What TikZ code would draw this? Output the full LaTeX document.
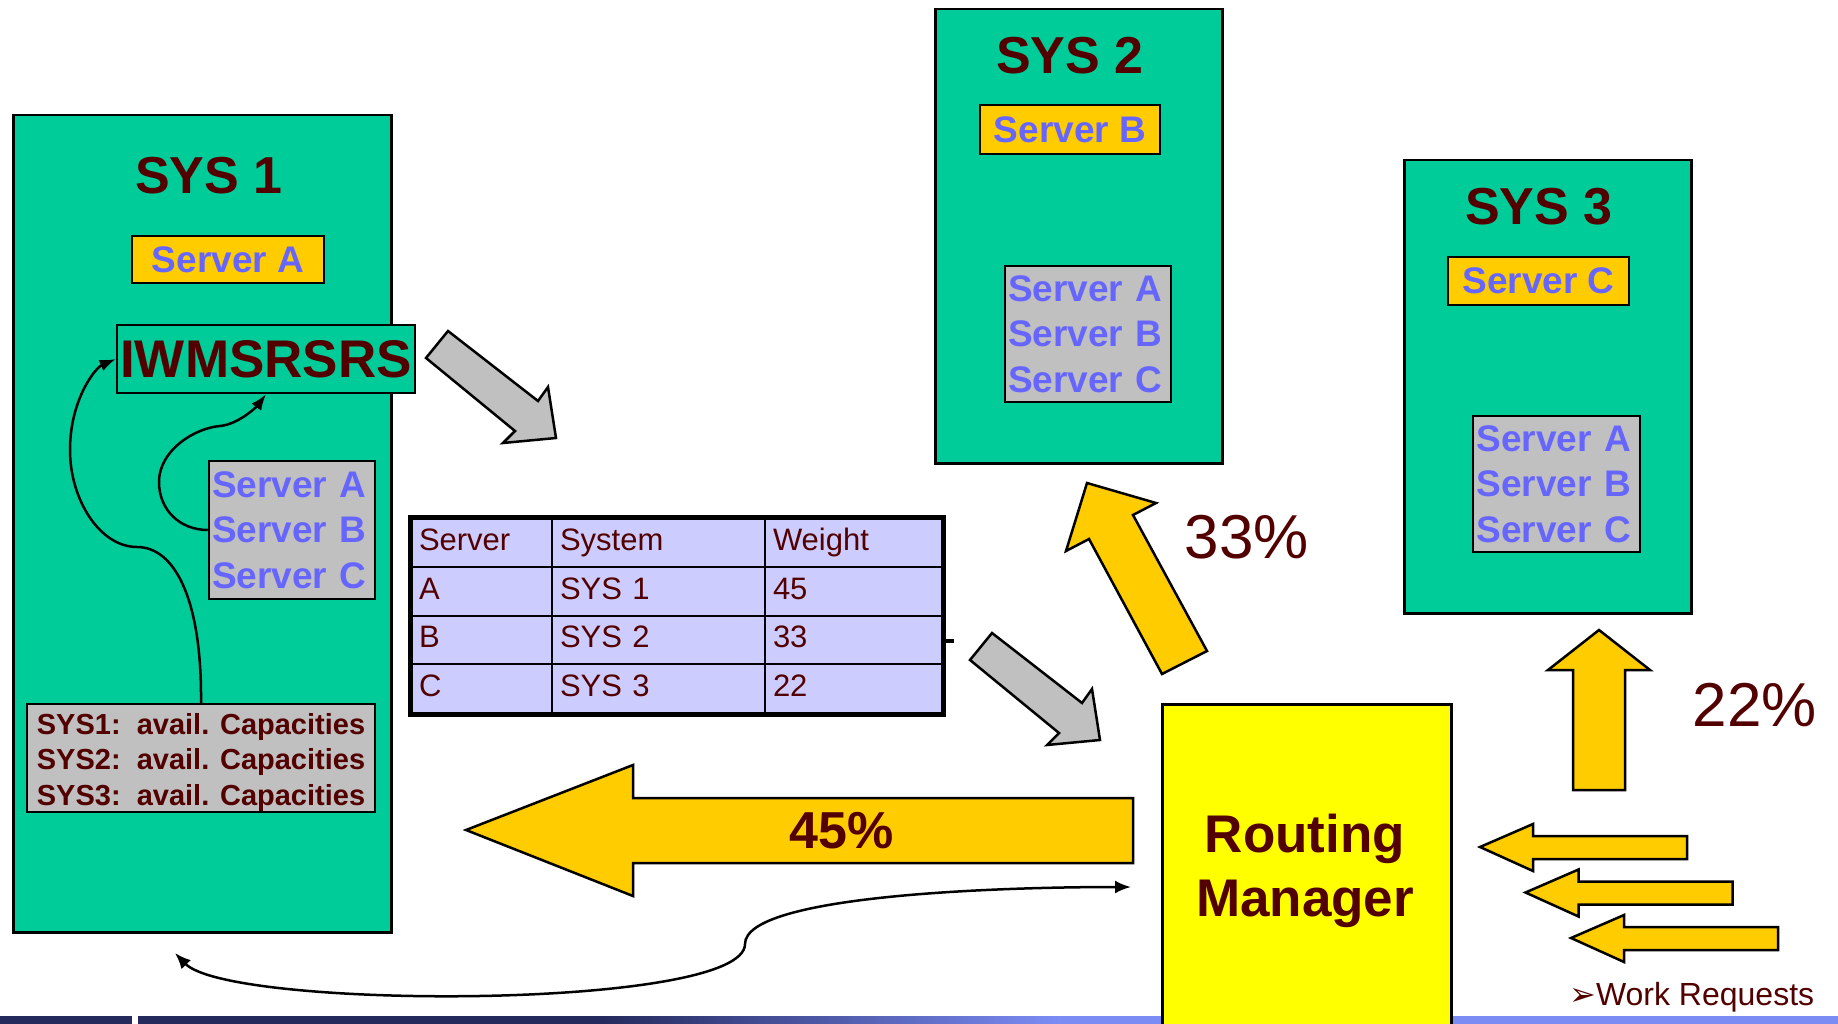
\documentclass[tikz,border=0pt]{standalone}
\usepackage{fontspec}
\setmainfont{Liberation Sans}
\newfontfamily\symfont{DejaVu Sans}
\usetikzlibrary{arrows.meta,matrix}
\definecolor{sysgreen}{HTML}{00CC99}
\definecolor{srvorange}{HTML}{FFCC00}
\definecolor{srvgray}{HTML}{C0C0C0}
\definecolor{srvblue}{HTML}{6666FF}
\definecolor{darkred}{HTML}{520000}
\definecolor{tablefill}{HTML}{CCCCFF}
\definecolor{rmyellow}{HTML}{FFFF00}
\definecolor{barnavy}{HTML}{242A5C}
\definecolor{barblue}{HTML}{7B8CF5}
\tikzset{
  sysbox/.style={draw, fill=sysgreen, line width=2.5pt, anchor=north west, inner sep=0pt},
  systitle/.style={text=darkred, font=\fontsize{52}{60}\selectfont\bfseries, inner sep=0pt},
  homesrv/.style={draw, fill=srvorange, line width=2.5pt, text=srvblue, inner sep=0pt,
    font=\fontsize{37}{45}\selectfont\bfseries},
  srvlist/.style={draw, fill=srvgray, line width=2.5pt, text=srvblue, inner sep=0pt,
    text width=160pt, align=left, font=\fontsize{37}{45.5}\selectfont\bfseries},
  capbox/.style={draw, fill=srvgray, line width=2.5pt, text=darkred, inner sep=0pt,
    align=left, font=\fontsize{29}{35.5}\selectfont\bfseries},
  iwmsbox/.style={draw, fill=sysgreen, line width=2.5pt, text=darkred, inner sep=0pt,
    font=\fontsize{53}{60}\selectfont\bfseries},
  rmbox/.style={draw, fill=rmyellow, line width=2.5pt, anchor=north west, inner sep=0pt},
  rmtext/.style={text=darkred, align=center, inner sep=0pt, font=\fontsize{53}{64}\selectfont\bfseries},
  pct/.style={text=darkred, inner sep=0pt, font=\fontsize{62}{70}\selectfont},
  blockarrow/.style={draw, fill=srvorange, line width=2.5pt, line join=miter},
  grayarrow/.style={draw, fill=srvgray, line width=2.5pt, line join=miter},
  flow/.style={line width=2.5pt}
}
\begin{document}
\begin{tikzpicture}[x=1pt,y=-1pt,>={Latex[length=16pt,width=12pt]}]
\useasboundingbox (0,0) rectangle (1838,1024);
% bottom bar
\fill[barnavy] (0,1016) rectangle (132,1024);
\fill[barnavy] (138,1016) rectangle (600,1024);
\shade[left color=barnavy,right color=barblue] (600,1016) rectangle (1060,1024);
\fill[barblue] (1060,1016) rectangle (1838,1024);

% SYS 1
\node[sysbox, minimum width=378, minimum height=817] (sys1) at (12,114) {};
\node[systitle] (sys1t) at (209,176) {SYS 1};
\node[homesrv, minimum width=192, minimum height=47] (srvA) at (228,259.5) {Server A};
\node[iwmsbox, minimum width=298, minimum height=68] (iwms) at (266,359) {IWMSRSRS};
\node[srvlist, minimum width=166, minimum height=138] (list1) at (292,530) {Server A\\Server B\\Server C};
\node[capbox, minimum width=348, minimum height=108] (caps) at (201,758)
  {\rule{0pt}{30pt}SYS1:~~avail. Capacities\\SYS2:~~avail. Capacities\\SYS3:~~avail. Capacities};
\draw[flow,->] (caps.north) .. controls (202,600) and (175,547) .. (137,547)
  .. controls (100,547) and (70,500) .. (70,450)
  .. controls (70,400) and (95,368) .. (iwms.west);
\draw[flow,->] (list1.west) .. controls (180,530) and (159,510) .. (159,482)
  .. controls (159,450) and (195,428) .. (220,426)
  .. controls (240,424) and (258,405) .. (iwms.south);

% SYS 2
\node[sysbox, minimum width=287, minimum height=454] (sys2) at (934,8) {};
\node[systitle] (sys2t) at (1070,56) {SYS 2};
\node[homesrv, minimum width=180, minimum height=49] (srvB) at (1070,129.5) {Server B};
\node[srvlist, minimum width=166, minimum height=136] (list2) at (1088,334) {Server A\\Server B\\Server C};

% SYS 3
\node[sysbox, minimum width=287, minimum height=453] (sys3) at (1403,159) {};
\node[systitle] (sys3t) at (1539,207) {SYS 3};
\node[homesrv, minimum width=181, minimum height=48] (srvC) at (1538.5,281) {Server C};
\node[srvlist, minimum width=167, minimum height=136] (list3) at (1556.5,484) {Server A\\Server B\\Server C};

% weight table
\matrix (tbl) [matrix of nodes, anchor=north west, inner sep=0pt, outer sep=0pt,
  column sep=-2pt, row sep=-2pt,
  nodes={draw, line width=2pt, fill=tablefill, minimum height=48.75pt, inner xsep=8pt,
    inner ysep=0pt, text height=23pt, text depth=7pt, align=left, anchor=center,
    text=darkred, font=\fontsize{31}{36}\selectfont},
  column 1/.style={nodes={text width=125pt}},
  column 2/.style={nodes={text width=197pt}},
  column 3/.style={nodes={text width=161pt}}] at (410,517) {
  Server & System & Weight \\
  A & SYS 1 & 45 \\
  B & SYS 2 & 33 \\
  C & SYS 3 & 22 \\
};
\draw[line width=5pt] (tbl.north west) rectangle (tbl.south east);
\draw[line width=4pt] ([yshift=-25.5pt]tbl.east) -- ++(11,0);

% gray arrows
\foreach \dx/\dy in {0/0,544/302}
  \draw[grayarrow, shift={(\dx,\dy)}] (448,331) -- (538,401) -- (548,387) -- (556,438)
    -- (503,443) -- (515,431) -- (426,358) -- cycle;

% routing manager
\node[rmbox, minimum width=289, minimum height=330] (rm) at (1161,703) {};
\node[rmtext] (rmt) at (1305,871) {Routing\\Manager};

% weighted routing
\draw[blockarrow] (466,830) -- (633,765) -- (633,798) -- (1133,798) -- (1133,863)
  -- (633,863) -- (633,896) -- cycle;
\node[text=darkred, inner sep=0pt, font=\fontsize{52}{60}\selectfont\bfseries] (pct45) at (842,831) {45\%};
\draw[blockarrow] (1087,483) -- (1156,503) -- (1133,515) -- (1207,651) -- (1162,674)
  -- (1089,539) -- (1066,551) -- cycle;
\node[pct] (pct33) at (1247,537) {33\%};
\draw[blockarrow] (1599,630) -- (1650,670) -- (1625,670) -- (1625,790) -- (1573,790)
  -- (1573,670) -- (1548,670) -- cycle;
\node[pct] (pct22) at (1755,705) {22\%};

% work requests
\foreach \s in {0,45.5,91}
  \draw[blockarrow, shift={(\s,\s)}] (1480,847) -- (1533,824) -- (1533,836) -- (1687,836)
    -- (1687,859) -- (1533,859) -- (1533,871) -- cycle;
\node[anchor=west, text=darkred, inner sep=0pt, font=\fontsize{32}{38}\selectfont] (work) at (1569,997)
  {{\symfont\fontsize{32}{36}\selectfont ➢}Work Requests};

% feedback
\coordinate (fbL) at (175,953);
\coordinate (fbR) at (1131,887);
\draw[flow,<->,>={Latex[length=16pt,width=13pt]}] (fbL) .. controls (230,1010) and (745,1010) .. (745,944)
  .. controls (745,895) and (1000,887) .. (fbR);
\end{tikzpicture}
\end{document}
